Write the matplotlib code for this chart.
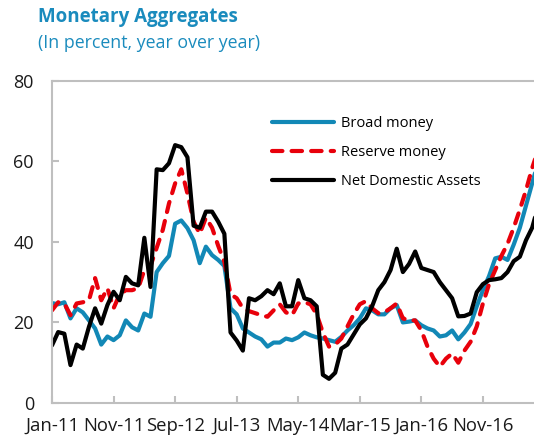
import numpy as np
import matplotlib
matplotlib.use("Agg")
import matplotlib.pyplot as plt

plt.rcParams['font.family'] = ['Open Sans', 'DejaVu Sans']

# monthly, Jan-11 onwards (last point runs past the cropped right edge)
broad_money = [24.8, 24.5, 25, 21, 23.5, 22.5, 20.5, 18.5, 14.5, 16.5,
               15.6, 16.8, 20.5, 18.8, 18, 22.2, 21.4, 32.5, 34.7, 36.5,
               44.5, 45.3, 43.4, 40.4, 34.7, 38.8, 36.7, 35.5, 34, 23.5,
               22, 18.5, 17.5, 16.5, 15.8, 14, 15, 15, 16, 15.6,
               16.3, 17.5, 16.8, 16.3, 16, 15.6, 15.2, 16.4, 18, 19.3,
               21, 23.5, 23, 22, 22, 23.5, 24.3, 20, 20.2, 20.5,
               19.3, 18.5, 18, 16.5, 16.8, 18, 15.8, 17.5, 19.6, 24,
               28, 31.5, 35.9, 36.3, 35.5, 39.3, 43.5, 49, 54.5, 60]

reserve_money = [23, 25, 24.7, 21.8, 24.7, 25, 25.5, 31, 25.5, 28.5,
                 23.5, 27, 28, 28, 28.5, 33, 34, 38.5, 43, 49.5,
                 54.5, 58, 52, 45, 42, 46, 43.5, 39, 35, 27,
                 26, 23.5, 22.8, 22.3, 21.8, 21.4, 23, 24.5, 22.5, 21.8,
                 24.7, 25, 24.5, 22, 17.5, 14, 14.5, 16, 19, 22,
                 24.5, 25.3, 23.5, 22.3, 22.5, 23.5, 24.7, 21, 20.5, 20.5,
                 18, 14, 11, 9, 11, 12.3, 10, 13, 15.2, 19,
                 24.7, 29.5, 33, 36.5, 39.5, 43.5, 48, 52.8, 58.3, 63]

net_domestic_assets = [14.3, 17.6, 17.2, 9.4, 14.5, 13.5, 18.9, 23.5, 19.7, 24.3,
                       27.6, 25.5, 31.3, 29.7, 29.2, 41, 28.8, 58, 57.8, 59.5,
                       64, 63.5, 61, 44, 43.5, 47.5, 47.5, 45, 42, 17.5,
                       15.5, 13, 26, 25.5, 26.5, 28, 27, 29.7, 24, 24,
                       30.5, 26, 25.5, 24, 7, 6, 7.5, 13.5, 14.5, 17,
                       19.5, 21, 24, 28, 30, 33, 38.3, 32.5, 34.5, 37.6,
                       33.5, 33, 32.5, 30, 28, 26, 21.5, 21.6, 22.2, 27.5,
                       29.5, 30.5, 30.7, 31, 32.5, 35.2, 36.3, 40.4, 43.5, 49]

tick_labels = ['Jan-11', 'Nov-11', 'Sep-12', 'Jul-13', 'May-14', 'Mar-15', 'Jan-16', 'Nov-16']

blue = '#1288b6'
red = '#e8000b'
grey = '#bfbfbf'
title_col = '#1a8bbd'

months = np.arange(len(broad_money))

fig = plt.figure(figsize=(5.34, 4.45), dpi=100)
ax = fig.add_axes([0.0974, 0.0944, 0.9026, 0.7243])

ax.plot(months, broad_money, color=blue, lw=3, solid_capstyle='round', label='Broad money')
ax.plot(months, reserve_money, color=red, lw=3, dashes=(2.5, 2.2), dash_capstyle='round',
        label='Reserve money')
ax.plot(months, net_domestic_assets, color='black', lw=3, solid_capstyle='round',
        label='Net Domestic Assets')

ax.set_xlim(0, 78.3)
ax.set_ylim(0, 80)
ax.set_yticks([0, 20, 40, 60, 80])
ax.set_xticks(np.arange(0, 80, 10))
ax.set_xticklabels(tick_labels)

for s in ['left', 'bottom', 'top']:
    ax.spines[s].set_color(grey)
    ax.spines[s].set_linewidth(1.5)
ax.spines['right'].set_visible(False)
ax.tick_params(direction='in', length=5, width=1.5, color=grey, labelsize=13,
               labelcolor='#1a1a1a')
ax.tick_params(axis='y', pad=13)
ax.tick_params(axis='x', pad=10, labelsize=13.3)

leg = ax.legend(loc='upper left', bbox_to_anchor=(0.43, 0.93), frameon=False, fontsize=10.5,
                handlelength=4.2, labelspacing=0.95, handletextpad=0.5)

fig.text(0.071, 0.962, 'Monetary Aggregates', color=title_col, fontsize=13.5,
         fontweight='bold', va='center', ha='left')
fig.text(0.071, 0.903, '(In percent, year over year)', color=title_col, fontsize=12.8,
         va='center', ha='left')

fig.savefig('out.png', dpi=100)
